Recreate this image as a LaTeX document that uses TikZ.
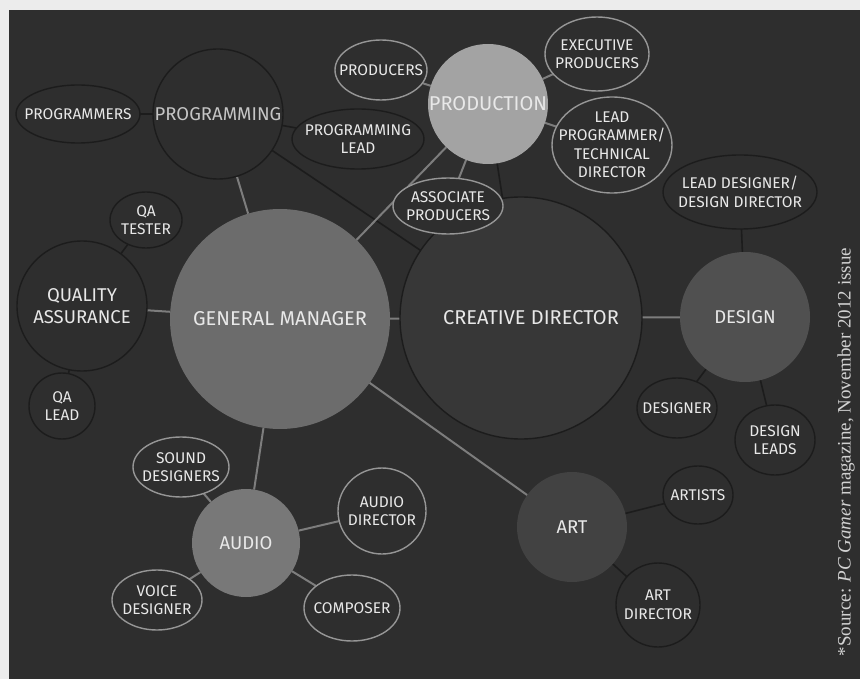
\documentclass[tikz,border=0pt]{standalone}
\usepackage{fontspec}
\setmainfont{Fira Sans}
\newfontfamily\sourcefont{Liberation Serif}
\usetikzlibrary{shapes.geometric,backgrounds}
\definecolor{paper}{RGB}{236,236,236}
\definecolor{panel}{RGB}{46,46,46}
\definecolor{gmgrey}{RGB}{108,108,108}
\definecolor{prodgrey}{RGB}{163,163,163}
\definecolor{audiogrey}{RGB}{120,120,120}
\definecolor{designgrey}{RGB}{80,80,80}
\definecolor{artgrey}{RGB}{66,66,66}
\definecolor{cdgrey}{RGB}{55,55,55}
\definecolor{rimdark}{RGB}{28,28,28}
\definecolor{rimlight}{RGB}{150,150,150}
\definecolor{linklight}{RGB}{125,125,125}
\definecolor{labelwhite}{RGB}{232,232,232}
\tikzset{
    % Text of the role ovals and of the department circles
    rolefont/.style={font=\fontsize{15.5}{18.5}\selectfont, text=labelwhite, align=center},
    headfont/.style={font=\fontsize{18.5}{22}\selectfont, text=labelwhite, align=center},
    bigfont/.style={font=\fontsize{20}{24}\selectfont},
    % Department circles (size given as argument)
    dept/.style={circle, inner sep=0pt, outer sep=0pt, minimum size=#1, headfont},
    % Role ovals: light rim next to a light hub, dark rim otherwise
    roleoval/.style={ellipse, inner sep=0pt, outer sep=0pt, fill=panel, line width=1.4pt},
    lightoval/.style={roleoval, draw=rimlight},
    darkoval/.style={roleoval, draw=rimdark},
    says/.style={label={[rolefont]center:#1}},
    % Connectors
    link/.style={draw=linklight, line width=2pt},
    faintlink/.style={draw=rimdark, line width=1.6pt},
}
\begin{document}
\begin{tikzpicture}[x=1pt,y=-1pt]
      \useasboundingbox (0,0) rectangle (860,679);
      % departments
      \node[dept=220, fill=gmgrey, bigfont] (gm) at (280,319) {GENERAL MANAGER};
      \node[dept=242, fill=cdgrey, draw=rimdark, line width=1.4pt, bigfont] (cd) at (521,318) {\hspace*{20pt}CREATIVE DIRECTOR};
      \node[dept=120, fill=prodgrey, bigfont] (prod) at (488,104) {PRODUCTION};
      \node[dept=130, fill=designgrey] (design) at (745,317) {DESIGN};
      \node[dept=110, fill=artgrey] (art) at (572,527) {ART};
      \node[dept=108, fill=audiogrey] (audio) at (246,543) {AUDIO};
      \node[dept=130, fill=panel, draw=rimdark, line width=1.4pt, text=labelwhite!85!black] (prog) at (218,114) {PROGRAMMING};
      \node[dept=130, fill=panel, draw=rimdark, line width=1.4pt] (qa) at (82,306) {QUALITY\\ASSURANCE};
      % roles
      \node[darkoval, minimum width=124, minimum height=58, says={PROGRAMMERS}] (progs) at (78,114) {};
      \node[darkoval, minimum width=132, minimum height=60, says={PROGRAMMING\\LEAD}] (proglead) at (358,139) {};
      \node[darkoval, minimum width=72, minimum height=56, says={QA\\TESTER}] (qatester) at (146,220) {};
      \node[darkoval, minimum width=66, minimum height=66, says={QA\\LEAD}] (qalead) at (62,406) {};
      \node[lightoval, minimum width=92, minimum height=60, says={PRODUCERS}] (producers) at (381,70) {};
      \node[lightoval, minimum width=104, minimum height=74, says={EXECUTIVE\\PRODUCERS}] (exec) at (597,54) {};
      \node[lightoval, minimum width=120, minimum height=96, says={LEAD\\PROGRAMMER/\\TECHNICAL\\DIRECTOR}] (leadprog) at (612,145) {};
      \node[lightoval, minimum width=110, minimum height=56, says={ASSOCIATE\\PRODUCERS}] (assoc) at (448,206) {};
      \node[darkoval, minimum width=154, minimum height=74, says={LEAD DESIGNER/\\DESIGN DIRECTOR}] (leaddes) at (740,192) {};
      \node[darkoval, minimum width=80, minimum height=60, says={DESIGNER}] (designer) at (677,408) {};
      \node[darkoval, minimum width=80, minimum height=70, says={DESIGN\\LEADS}] (desleads) at (775,440) {};
      \node[darkoval, minimum width=70, minimum height=58, says={ARTISTS}] (artists) at (698,495) {};
      \node[darkoval, minimum width=84, minimum height=84, says={ART\\DIRECTOR}] (artdir) at (658,605) {};
      \node[lightoval, minimum width=96, minimum height=60, says={SOUND\\DESIGNERS}] (sound) at (181,467) {};
      \node[lightoval, minimum width=88, minimum height=86, says={AUDIO\\DIRECTOR}] (audiodir) at (382,511) {};
      \node[lightoval, minimum width=90, minimum height=60, says={VOICE\\DESIGNER}] (voice) at (157,600) {};
      \node[lightoval, minimum width=96, minimum height=66, says={COMPOSER}] (composer) at (352,608) {};
      % source note
      \node[rotate=90, font=\sourcefont\fontsize{19}{21}\selectfont, text=labelwhite!90!black] (source) at (846,452)
        {*Source: \textit{PC Gamer} magazine, November 2012 issue};
      \begin{pgfonlayer}{background}
        \fill[paper] (0,0) rectangle (860,679);
        \fill[panel] (9,10) rectangle (860,679);
        \draw[faintlink] (prog) -- (progs);
        \draw[faintlink] (prog) -- (proglead);
        \draw[faintlink] (prog) -- (cd);
        \draw[faintlink] (qa) -- (qatester);
        \draw[faintlink] (qa) -- (qalead);
        \draw[faintlink] (prod) -- (cd);
        \draw[faintlink] (design) -- (leaddes);
        \draw[faintlink] (design) -- (designer);
        \draw[faintlink] (design) -- (desleads);
        \draw[faintlink] (art) -- (artists);
        \draw[faintlink] (art) -- (artdir);
        \draw[link] (gm) -- (prog);
        \draw[link] (gm) -- (qa);
        \draw[link] (gm) -- (cd);
        \draw[link] (gm) -- (prod);
        \draw[link] (gm) -- (audio);
        \draw[link] (gm) -- (art);
        \draw[link] (cd) -- (design);
        \draw[link] (prod) -- (producers);
        \draw[link] (prod) -- (exec);
        \draw[link] (prod) -- (leadprog);
        \draw[link] (prod) -- (assoc);
        \draw[link] (audio) -- (sound);
        \draw[link] (audio) -- (audiodir);
        \draw[link] (audio) -- (voice);
        \draw[link] (audio) -- (composer);
      \end{pgfonlayer}
    \end{tikzpicture}
\end{document}
